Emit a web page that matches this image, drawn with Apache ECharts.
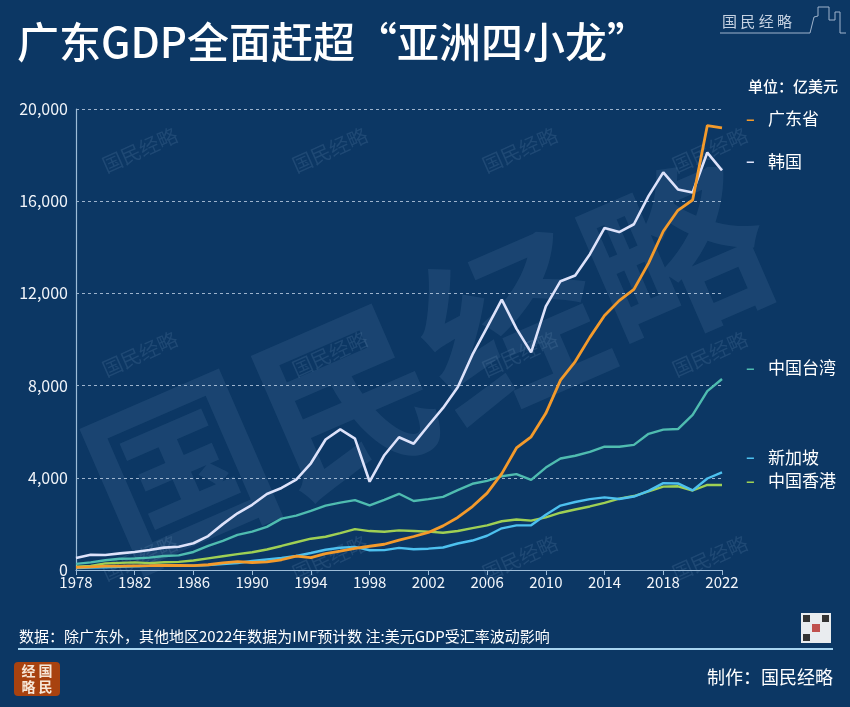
<!DOCTYPE html>
<html>
<head>
<meta charset="utf-8">
<script src="https://cdn.jsdelivr.net/npm/echarts@6/dist/echarts.min.js"></script>
<style>
html,body{margin:0;padding:0;background:#0c3764;}
#chart{width:850px;height:707px;}
</style>
</head>
<body>
<div id="chart"></div>
<script>
// ---- data (亿美元) ----
const years = ['1978','1979','1980','1981','1982','1983','1984','1985','1986','1987',
  '1988','1989','1990','1991','1992','1993','1994','1995','1996','1997',
  '1998','1999','2000','2001','2002','2003','2004','2005','2006','2007',
  '2008','2009','2010','2011','2012','2013','2014','2015','2016','2017',
  '2018','2019','2020','2021','2022'];
const guangdong = [110,135,167,171,180,186,198,196,193,228,310,366,326,356,444,602,536,711,822,938,
  1030,1117,1297,1454,1631,1914,2279,2754,3336,4181,5295,5780,6797,8237,9044,10093,11044,11687,12177,13316,
  14695,15605,16052,19282,19186];
const korea = [520,660,650,720,780,870,970,1010,1160,1470,1990,2460,2830,3300,3560,3920,4630,5660,6100,5700,
  3830,4980,5760,5480,6270,7030,7930,9340,10530,11730,10470,9440,11440,12530,12780,13700,14840,14660,15000,16230,
  17250,16510,16380,18110,17340];
const taiwan = [268,332,423,490,496,536,610,636,782,1047,1265,1526,1666,1871,2229,2356,2562,2790,2925,3033,
  2800,3042,3307,2993,3074,3174,3469,3740,3865,4069,4160,3908,4443,4839,4958,5122,5353,5345,5430,5908,
  6092,6114,6733,7758,8287];
const singapore = [84,103,121,142,161,180,197,190,188,210,254,301,389,455,521,606,737,879,963,1001,
  857,863,961,898,925,976,1150,1278,1486,1809,1936,1942,2398,2794,2951,3076,3149,3080,3188,3433,
  3769,3755,3453,3970,4236];
const hongkong = [144,179,289,311,329,299,335,351,411,506,597,688,769,889,1043,1204,1358,1442,1597,1774,
  1689,1658,1717,1694,1663,1614,1691,1816,1935,2116,2193,2140,2286,2485,2626,2757,2915,3094,3209,3413,
  3617,3631,3449,3689,3690];
const yTicks = [0, 4000, 8000, 12000, 16000, 20000];

const FONT = '"Noto Sans CJK SC", "Noto Sans", sans-serif';
const chart = echarts.init(document.getElementById('chart'));

function mkSeries(name, data, color, dy, width) {
  return {
    name: name, type: 'line', data: data, symbol: 'none', smooth: false,
    lineStyle: {color: color, width: width || 2.6},
    itemStyle: {color: color},
    emphasis: {disabled: true},
    endLabel: {
      show: true, distance: 0, offset: [24, dy],
      formatter: '{d|–}{t|' + name + '}',
      rich: {
        d: {color: color, fontSize: 16, fontWeight: 'bold', width: 22, fontFamily: FONT},
        t: {color: '#ffffff', fontSize: 17, fontFamily: FONT}
      }
    }
  };
}

// watermarks
const wm = [];
[140, 330, 520, 710].forEach(function (x) {
  [150, 354, 558].forEach(function (y) {
    wm.push({type: 'text', x: x, y: y, rotation: 0.42, z: 0,
      style: {text: '国民经略', fill: 'rgba(150,185,220,0.14)', font: '20px ' + FONT,
        align: 'center', verticalAlign: 'middle'}});
  });
});

const option = {
  backgroundColor: '#0c3764',
  animation: false,
  textStyle: {fontFamily: FONT},
  grid: {left: 76, right: 128, top: 109, bottom: 137},
  xAxis: {
    type: 'category', data: years, boundaryGap: false,
    axisLine: {lineStyle: {color: '#9dbcd8', width: 1.2}},
    axisTick: {show: true, interval: 3, length: 5, lineStyle: {color: '#9dbcd8'}},
    axisLabel: {interval: 3, color: '#f2f5fa', fontSize: 15, margin: 5, fontFamily: FONT},
    splitLine: {show: false}
  },
  yAxis: {
    type: 'value', min: yTicks[0], max: yTicks[yTicks.length - 1], interval: 4000,
    axisLine: {show: true, lineStyle: {color: '#9dbcd8', width: 1.2}},
    axisTick: {show: false},
    axisLabel: {color: '#f2f5fa', fontSize: 16, margin: 8, fontFamily: FONT,
      formatter: function (v) { return v.toLocaleString('en-US'); }},
    splitLine: {show: true, lineStyle: {color: 'rgba(205,222,240,0.75)', type: [3, 3], width: 1}}
  },
  series: [
    mkSeries('韩国', korea, '#dde2fa', -9, 2.6),
    mkSeries('中国台湾', taiwan, '#4fbcb0', -11, 2.4),
    mkSeries('中国香港', hongkong, '#9fd054', -4, 2.4),
    mkSeries('新加坡', singapore, '#4dc1ef', -15, 2.4),
    mkSeries('广东省', guangdong, '#f39a2b', -9, 2.8)
  ],
  graphic: wm.concat([
    // big watermark
    {type: 'text', x: 428, y: 362, rotation: 0.41, z: 0,
      style: {text: '国民经略', fill: 'rgba(120,160,200,0.13)', font: 'bold 180px ' + FONT,
        align: 'center', verticalAlign: 'middle'}},
    // title
    {type: 'text', x: 17, y: 42, z: 10,
      style: {text: '广东GDP全面赶超“亚洲四小龙”', fill: '#ffffff', font: '500 42px ' + FONT,
        verticalAlign: 'middle'}},
    // top-right logo
    {type: 'text', x: 722, y: 21, z: 10,
      style: {text: '国 民 经 略', fill: '#c6d2e2', font: '15px ' + FONT, verticalAlign: 'middle'}},
    {type: 'polyline', z: 10,
      shape: {points: [[720, 33], [810, 33], [814, 17], [818, 16], [818, 7], [829, 7], [829, 20], [835, 20], [835, 12], [840, 12], [840, 33], [846, 33]]},
      style: {stroke: '#9fb4cc', lineWidth: 1, fill: null}},
    // unit
    {type: 'text', x: 838, y: 86, z: 10,
      style: {text: '单位：亿美元', fill: '#ffffff', font: '500 15px ' + FONT, align: 'right', verticalAlign: 'middle'}},
    // source note
    {type: 'text', x: 19, y: 636, z: 10,
      style: {text: '数据：除广东外，其他地区2022年数据为IMF预计数 注:美元GDP受汇率波动影响', fill: '#ffffff',
        font: '15px ' + FONT, verticalAlign: 'middle'}},
    {type: 'line', z: 10, shape: {x1: 18, y1: 649, x2: 833, y2: 649},
      style: {stroke: '#a8d4f0', lineWidth: 2}},
    // QR placeholder
    {type: 'rect', z: 10, shape: {x: 801, y: 613, width: 30, height: 30},
      style: {fill: '#e9ecef'}},
    {type: 'rect', z: 11, shape: {x: 803, y: 615, width: 7, height: 7}, style: {fill: '#333'}},
    {type: 'rect', z: 11, shape: {x: 822, y: 615, width: 7, height: 7}, style: {fill: '#333'}},
    {type: 'rect', z: 11, shape: {x: 803, y: 634, width: 7, height: 7}, style: {fill: '#333'}},
    {type: 'rect', z: 11, shape: {x: 812, y: 624, width: 8, height: 8}, style: {fill: '#c0504d'}},
    // bottom-left logo
    {type: 'rect', z: 10, shape: {x: 14, y: 662, width: 46, height: 34, r: 4},
      style: {fill: '#a8420f'}},
    {type: 'text', x: 37, y: 671, z: 11,
      style: {text: '经 国', fill: '#f6e6d6', font: 'bold 14px ' + FONT, align: 'center', verticalAlign: 'middle'}},
    {type: 'text', x: 37, y: 687, z: 11,
      style: {text: '略 民', fill: '#f6e6d6', font: 'bold 14px ' + FONT, align: 'center', verticalAlign: 'middle'}},
    // credit
    {type: 'text', x: 833, y: 677, z: 10,
      style: {text: '制作：国民经略', fill: '#ffffff', font: '18px ' + FONT, align: 'right', verticalAlign: 'middle'}}
  ])
};
chart.setOption(option);
</script>
</body>
</html>
